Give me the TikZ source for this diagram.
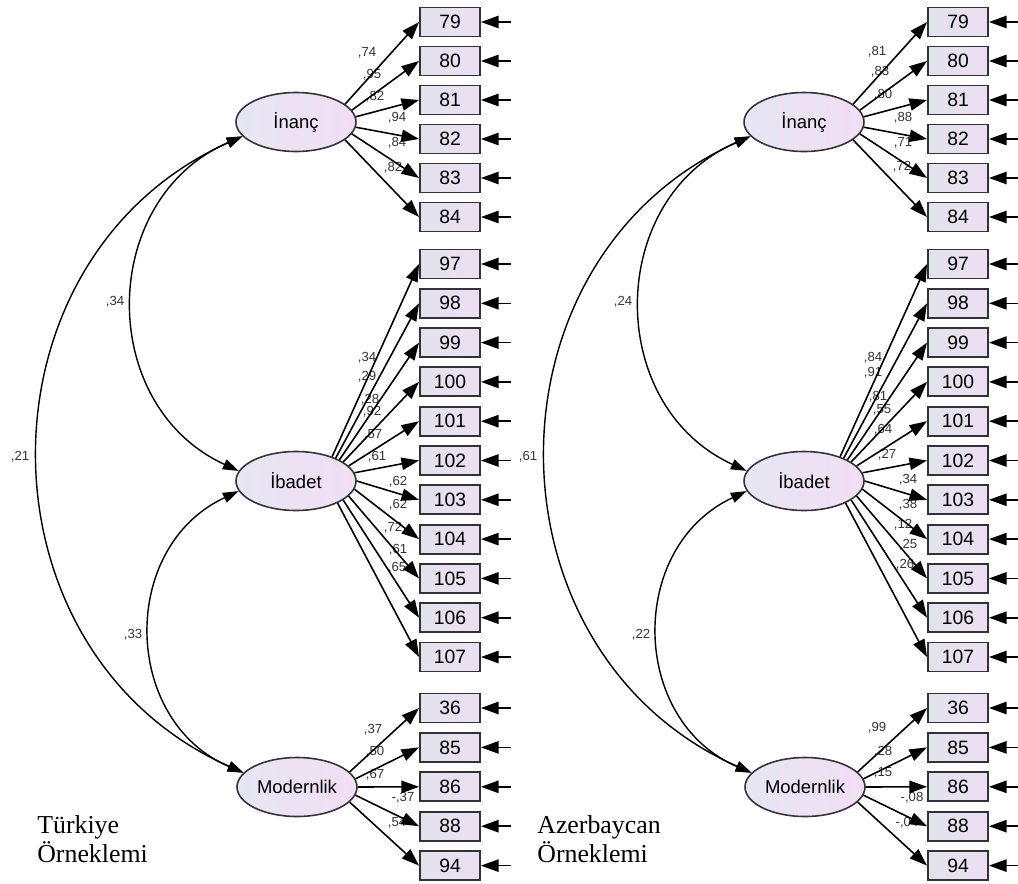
\documentclass[tikz,border=0pt]{standalone}
\usepackage{fontspec}
\setmainfont{Liberation Sans}
\newfontfamily\sampfont{Liberation Serif}
\usetikzlibrary{arrows.meta,shapes.geometric}

\definecolor{itemleft}{RGB}{226,226,236}
\definecolor{itemright}{RGB}{236,224,243}
\definecolor{latleft}{RGB}{230,230,244}
\definecolor{latright}{RGB}{242,222,244}
\definecolor{framegray}{RGB}{50,50,55}

\tikzset{
  item/.style={draw=framegray,line width=1.1pt,left color=itemleft,right color=itemright,
    minimum width=1.2cm,minimum height=0.58cm,inner sep=0pt,font=\fontsize{11}{12}\selectfont},
  latent/.style={ellipse,draw=framegray,line width=0.9pt,left color=latleft,right color=latright,
    minimum width=2.4cm,minimum height=1.18cm,inner sep=0pt,font=\fontsize{10.5}{12}\selectfont},
  wlabel/.style={inner sep=0pt,text=black!80,font=\fontsize{7.5}{8}\selectfont},
  onearrow/.style={line width=0.9pt,-{Triangle[length=10pt,width=7pt]}},
  twoarrow/.style={line width=0.8pt,{Triangle[length=9pt,width=6pt]}-{Triangle[length=9pt,width=6pt]}},
  sample/.style={inner sep=0pt,anchor=base west,font=\sampfont\fontsize{14.7}{16}\selectfont},
}

\begin{document}
\begin{tikzpicture}[x=0.02cm,y=0.02cm]
\useasboundingbox (0,0) rectangle (1018,-883);
% standardized weights, both samples
\foreach \v/\x/\y [count=\i] in {{,74}/367/53,{,95}/372/75,{,82}/375/97,{,94}/397/118,{,84}/397/143,{,82}/393/168,
    {,34}/367/358,{,29}/367/377,{,28}/370/400,{,92}/372/412,{,57}/373/435,{,61}/377/457,
    {,62}/398/482,{,62}/398/505,{,72}/393/528,{,61}/398/550,{,65}/397/568,
    {,37}/373/730,{,50}/375/752,{,67}/375/775,{-,37}/403/798,{,54}/397/823,
    {,81}/877/52,{,83}/880/72,{,80}/883/95,{,88}/903/118,{,71}/903/143,{,72}/902/167,
    {,84}/873/358,{,91}/873/373,{,81}/878/397,{,55}/882/410,{,64}/883/430,{,27}/887/455,
    {,34}/908/480,{,38}/908/505,{,12}/903/525,{,25}/908/545,{,26}/905/565,
    {,99}/877/728,{,28}/883/752,{,15}/883/773,{-,08}/912/798,{-,04}/907/823}
  \node[wlabel] (w\i) at (\x,-\y) {\v};
% same model drawn twice
\foreach \p/\dx/\ca/\cb/\cc in {t/0/{,34}/{,33}/{,21},a/508/{,24}/{,22}/{,61}}{
  \node[latent] (\p inanc) at (296+\dx,-122) {İnanç};
  \node[latent] (\p ibadet) at (296+\dx,-481) {İbadet};
  \node[latent] (\p modern) at (297+\dx,-787) {Modernlik};
  \foreach \n/\a [count=\i] in {79/20,80/12,81/5,82/-5,83/-12,84/-20}{
    \node[item] (\p\n) at (450+\dx,-22-39*\i+39) {\n};
    \draw[onearrow] (\p inanc.\a) -- (\p\n.west);
    \draw[onearrow] ([xshift=0.6cm]\p\n.east) -- (\p\n.east);
  }
  \foreach \n/\a [count=\i] in {97/34,98/30,99/26,100/22,101/16,102/8,103/0,104/-8,105/-16,106/-22,107/-28}{
    \node[item] (\p\n) at (450+\dx,-264-39.3*\i+39.3) {\n};
    \draw[onearrow] (\p ibadet.\a) -- (\p\n.west);
    \draw[onearrow] ([xshift=0.6cm]\p\n.east) -- (\p\n.east);
  }
  \foreach \n/\a [count=\i] in {36/16,85/8,86/0,88/-8,94/-16}{
    \node[item] (\p\n) at (450+\dx,-708-39.4*\i+39.4) {\n};
    \draw[onearrow] (\p modern.\a) -- (\p\n.west);
    \draw[onearrow] ([xshift=0.6cm]\p\n.east) -- (\p\n.east);
  }
  \draw[twoarrow] (\p inanc.195) to[bend right=66,looseness=1.2] (\p ibadet.170);
  \draw[twoarrow] (\p ibadet.190) to[bend right=66,looseness=1.2] (\p modern.165);
  \draw[twoarrow] (\p inanc.195) to[bend right=66,looseness=1.2] (\p modern.165);
  \node[wlabel] (\p c1) at (115+\dx,-302) {\ca};
  \node[wlabel] (\p c2) at (133+\dx,-635) {\cb};
  \node[wlabel] (\p c3) at (20+\dx,-457) {\cc};
}
\node[sample] (tname) at (37,-833) {Türkiye};
\node[sample] (tname2) at (37,-862) {Örneklemi};
\node[sample] (aname) at (537,-833) {Azerbaycan};
\node[sample] (aname2) at (537,-862) {Örneklemi};
\end{tikzpicture}
\end{document}
